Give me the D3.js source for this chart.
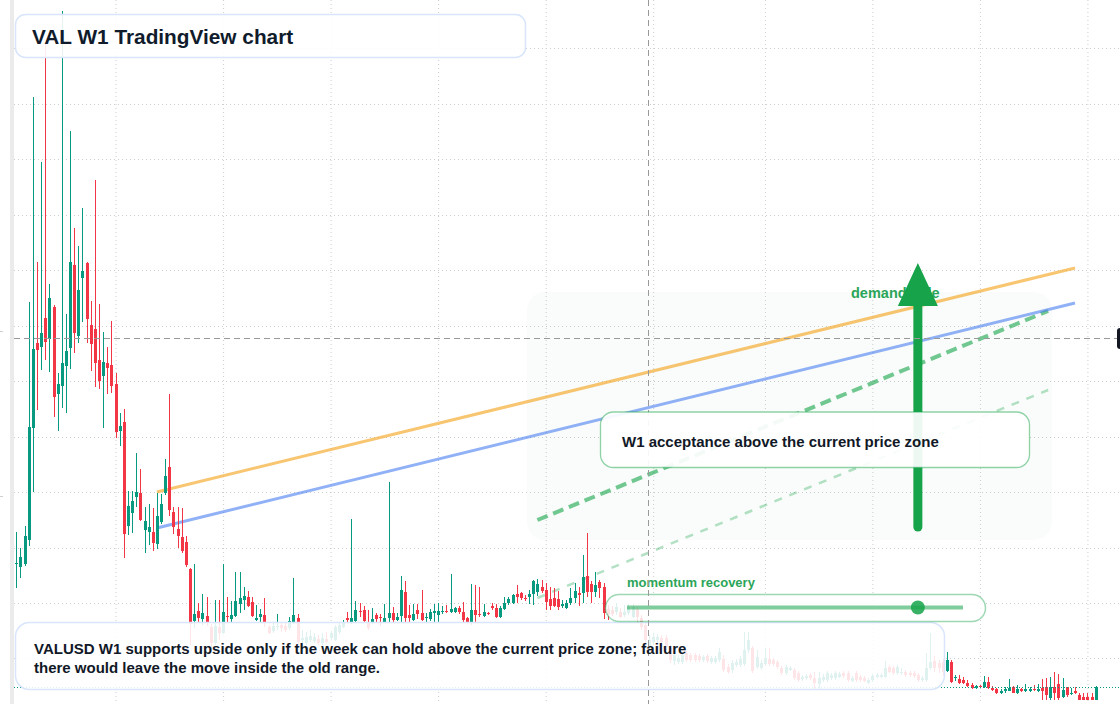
<!DOCTYPE html>
<html><head><meta charset="utf-8">
<script src="https://cdn.jsdelivr.net/npm/d3@7"></script>
<style>html,body{margin:0;padding:0;background:#fff;overflow:hidden}svg{display:block}</style>
</head><body><svg id="c" width="1120" height="704"></svg>
<script>
const opens=[1.36,1.33,1.36,1.60,2.72,3.57,3.53,3.82,3.61,3.93,
3.06,3.14,3.34,3.52,4.35,3.64,4.22,4.37,3.75,3.71,
3.40,3.24,3.37,3.35,3.16,2.69,2.78,1.74,1.87,2.03,
2.07,1.70,1.68,1.68,1.56,1.78,2.07,2.33,1.88,1.71,
1.63,1.58,1.31,0.79,0.89,0.81,0.84,0.73,0.57,0.73,
0.67,0.84,0.81,0.84,0.96,1.00,1.03,0.98,0.80,0.83,
0.85,0.73,0.69,0.73,0.75,0.74,0.72,0.77,0.82,0.60,
0.57,0.60,0.59,0.61,0.57,0.61,0.62,0.60,0.68,0.73,
0.82,0.78,0.79,0.89,0.90,0.78,0.78,0.85,0.83,0.78,
0.82,0.87,0.80,0.84,1.08,0.85,0.80,0.90,0.87,0.82,
0.81,0.87,0.85,0.88,0.89,0.88,0.88,0.92,0.88,0.82,
0.78,0.90,0.86,0.84,0.87,0.94,0.92,0.83,0.91,0.97,
0.97,1.06,1.07,1.02,1.03,1.06,1.08,1.13,1.10,1.01,
1.02,1.01,0.94,0.92,0.97,1.02,1.07,1.07,1.24,1.16,
1.08,1.18,1.13,0.91,0.90,0.88,0.88,0.85,0.87,0.83,
0.91,0.82,0.75,0.54,0.58,0.60,0.62,0.62,0.52,0.39,
0.38,0.38,0.47,0.45,0.45,0.44,0.40,0.44,0.38,0.38,
0.40,0.41,0.33,0.30,0.35,0.35,0.36,0.50,0.52,0.33,
0.32,0.36,0.41,0.40,0.38,0.32,0.27,0.30,0.30,0.27,
0.21,0.22,0.25,0.22,0.16,0.20,0.20,0.22,0.22,0.23,
0.27,0.27,0.19,0.27,0.23,0.22,0.17,0.20,0.23,0.23,
0.23,0.33,0.32,0.27,0.27,0.28,0.27,0.27,0.25,0.20,
0.20,0.32,0.39,0.37,0.38,0.29,0.38,0.22,0.21,0.20,
0.17,0.15,0.12,0.14,0.13,0.18,0.12,0.11,0.07,0.09,
0.09,0.13,0.07,0.11,0.09,0.09,0.11,0.09,0.12,0.13,
0.02,0.13,0.16,0.03,0.13,0.06,0.09,0.05,0.03,0.03,
0.03,0.00];
const highs=[1.68,1.52,1.74,3.98,6.03,4.38,5.38,6.57,4.16,3.95,
3.27,6.89,3.86,5.69,4.72,4.54,4.92,4.38,3.99,5.20,
3.96,3.68,3.53,3.79,3.27,2.87,2.91,2.09,2.09,2.47,
2.31,1.93,1.96,1.92,2.07,2.06,2.41,3.06,1.93,1.93,
1.92,1.64,1.32,1.36,0.97,1.06,1.03,0.76,1.00,1.00,
1.36,1.03,0.99,1.28,1.28,1.13,1.09,1.03,0.95,0.91,
1.02,0.75,0.78,0.86,0.78,0.77,0.83,1.22,0.86,0.70,
0.68,0.70,0.67,0.65,0.67,0.68,0.69,0.75,0.77,0.80,
0.88,1.81,0.99,0.97,0.94,0.90,0.92,0.87,0.86,0.96,
2.18,0.93,0.87,1.24,1.19,0.95,0.96,0.96,1.10,0.87,
0.91,0.96,0.97,0.94,0.95,1.26,0.93,0.94,0.98,0.83,
1.16,1.15,1.13,0.96,0.88,0.97,0.96,0.94,1.03,1.03,
1.06,1.15,1.08,1.05,1.10,1.20,1.21,1.20,1.17,1.13,
1.12,1.09,1.00,1.00,1.12,1.17,1.13,1.45,1.67,1.19,
1.28,1.20,1.17,0.95,0.94,0.97,0.92,0.95,0.96,0.96,
0.93,0.85,0.78,0.65,0.67,0.66,0.65,0.65,0.55,0.50,
0.45,0.48,0.49,0.47,0.47,0.46,0.45,0.46,0.44,0.44,
0.52,0.45,0.36,0.40,0.41,0.44,0.68,0.68,0.54,0.50,
0.40,0.52,0.52,0.42,0.40,0.34,0.35,0.34,0.32,0.29,
0.25,0.26,0.27,0.28,0.28,0.26,0.29,0.27,0.29,0.28,
0.29,0.29,0.24,0.29,0.25,0.24,0.22,0.26,0.27,0.27,
0.39,0.35,0.34,0.35,0.32,0.30,0.29,0.29,0.27,0.24,
0.47,0.67,0.44,0.40,0.41,0.48,0.40,0.25,0.25,0.23,
0.20,0.17,0.15,0.15,0.24,0.23,0.14,0.12,0.11,0.13,
0.21,0.14,0.15,0.12,0.16,0.13,0.15,0.16,0.21,0.22,
0.23,0.28,0.26,0.22,0.13,0.12,0.13,0.07,0.07,0.07,
0.07,0.14];
const lows=[1.12,1.22,1.34,1.54,2.08,2.90,3.30,3.40,3.28,2.83,
2.69,2.92,2.87,3.31,3.47,3.57,3.78,3.57,3.29,3.13,
3.11,2.72,3.06,3.07,2.62,2.54,1.42,1.65,1.67,1.93,
1.79,1.47,1.55,1.49,1.51,1.76,2.05,1.84,1.66,1.52,
1.47,1.33,0.55,0.72,0.78,0.75,0.74,0.52,0.55,0.60,
0.66,0.78,0.78,0.83,0.87,0.90,0.93,0.83,0.79,0.78,
0.73,0.66,0.67,0.70,0.68,0.68,0.70,0.76,0.55,0.57,
0.55,0.58,0.57,0.55,0.55,0.57,0.60,0.59,0.66,0.72,
0.78,0.76,0.78,0.83,0.78,0.70,0.76,0.78,0.74,0.78,
0.78,0.78,0.79,0.78,0.78,0.78,0.79,0.81,0.79,0.78,
0.79,0.78,0.78,0.86,0.87,0.87,0.87,0.86,0.78,0.78,
0.75,0.78,0.83,0.83,0.85,0.90,0.82,0.82,0.90,0.95,
0.96,0.97,1.00,0.99,0.96,0.95,1.04,1.07,0.90,0.90,
0.93,0.90,0.92,0.91,0.95,0.97,0.94,0.97,1.03,0.97,
1.03,1.02,0.81,0.80,0.84,0.85,0.82,0.83,0.85,0.82,
0.77,0.70,0.53,0.52,0.55,0.57,0.55,0.50,0.37,0.35,
0.36,0.36,0.38,0.38,0.38,0.38,0.38,0.37,0.36,0.36,
0.38,0.28,0.26,0.27,0.33,0.33,0.34,0.47,0.27,0.31,
0.30,0.34,0.34,0.34,0.31,0.25,0.25,0.29,0.20,0.18,
0.19,0.20,0.20,0.10,0.10,0.18,0.18,0.20,0.20,0.22,
0.22,0.18,0.18,0.18,0.18,0.18,0.16,0.18,0.22,0.22,
0.22,0.27,0.25,0.25,0.25,0.23,0.23,0.22,0.18,0.18,
0.18,0.30,0.28,0.27,0.24,0.28,0.17,0.19,0.16,0.16,
0.13,0.11,0.11,0.13,0.12,0.11,0.09,0.06,0.06,0.07,
0.09,0.07,0.06,0.08,0.08,0.08,0.09,0.08,0.00,0.00,
0.00,0.00,0.00,0.02,0.03,0.05,0.06,0.00,0.00,0.00,
0.00,0.00];
const closes=[1.37,1.43,1.64,2.73,3.51,3.50,3.67,3.58,4.02,3.03,
3.16,3.37,3.49,4.38,3.67,4.10,4.29,3.81,3.56,3.37,
3.19,3.38,3.32,3.14,2.68,2.74,1.66,1.94,1.99,2.08,
1.80,1.79,1.73,1.57,1.84,1.96,2.24,1.90,1.73,1.64,
1.49,1.35,0.76,0.86,0.82,0.87,0.78,0.57,0.74,0.67,
0.88,0.83,0.85,0.99,1.02,1.04,0.94,0.84,0.82,0.86,
0.77,0.67,0.74,0.74,0.72,0.70,0.79,0.85,0.58,0.62,
0.63,0.64,0.63,0.57,0.62,0.58,0.67,0.73,0.75,0.77,
0.80,0.82,0.90,0.88,0.79,0.72,0.81,0.81,0.82,0.82,
0.87,0.80,0.83,1.10,0.82,0.82,0.86,0.86,0.80,0.83,
0.88,0.89,0.89,0.89,0.88,0.91,0.92,0.88,0.80,0.78,
0.90,0.85,0.85,0.88,0.86,0.92,0.83,0.92,0.97,1.01,
1.05,1.03,1.02,1.01,1.06,1.19,1.16,1.09,0.98,0.94,
0.94,0.93,0.96,0.97,1.02,1.09,1.05,1.23,1.08,1.08,
1.15,1.12,0.87,0.85,0.86,0.93,0.83,0.88,0.93,0.93,
0.83,0.73,0.60,0.60,0.63,0.63,0.58,0.53,0.40,0.45,
0.42,0.45,0.40,0.40,0.40,0.40,0.43,0.39,0.42,0.42,
0.48,0.30,0.28,0.37,0.38,0.41,0.50,0.60,0.29,0.43,
0.37,0.42,0.36,0.36,0.33,0.27,0.33,0.32,0.22,0.20,
0.23,0.24,0.22,0.17,0.22,0.23,0.27,0.25,0.27,0.26,
0.24,0.20,0.22,0.20,0.20,0.19,0.20,0.24,0.25,0.25,
0.32,0.28,0.27,0.33,0.28,0.25,0.25,0.24,0.20,0.22,
0.32,0.38,0.32,0.32,0.28,0.40,0.18,0.23,0.17,0.17,
0.14,0.12,0.14,0.13,0.18,0.12,0.10,0.07,0.09,0.11,
0.12,0.07,0.11,0.09,0.11,0.11,0.10,0.11,0.09,0.05,
0.13,0.07,0.02,0.10,0.05,0.07,0.07,0.00,0.00,0.00,
0.00,0.13];

// grid ticks (candle index of half-year boundaries, price levels)
const gridIdx=[24,50,76,102,128,154,181,207,233,259];
const gridPrices=[0.42,0.97,1.52,2.08,2.63,3.19,3.74,4.30,4.85,5.41,5.96,6.52];
const crossIdx=153, crossPrice=3.62, lastPrice=0.13;
// drawn trend lines: [candle index, price]
const orangeLine=[[34,2.08],[256,4.32]];
const blueLine=[[34,1.72],[256,3.97]];
const demandDash=[[126,1.80],[249.5,3.89]];
const lowerDash=[[126,1.02],[249.5,3.10]];
const zoneIdx=[123.5,250.4], zonePrice=[1.60,4.08];
const arrowIdx=218, arrowPrice=[1.73,4.37];
const titleText="VAL W1 TradingView chart";
const noteLines=["VALUSD W1 supports upside only if the week can hold above the current price zone; failure","there would leave the move inside the old range."];
const acceptText="W1 acceptance above the current price zone";
const momentumText="momentum recovery";
const demandText="demand side";

const W=1120,H=704;
const UP='#089981',DOWN='#f23645',GREEN='#16a34a';
const FONT='"Liberation Sans", Arial, sans-serif';
const svg=d3.select('#c');
const x=d3.scaleLinear().domain([0,opens.length-1]).range([16.3,1095.7]);
const y=d3.scaleLinear().domain([0,7]).range([700,0]);
const candles=opens.map((o,i)=>({i,o,h:highs[i],l:lows[i],c:closes[i]}));

svg.append('rect').attr('width',W).attr('height',H).attr('fill','#fff');
svg.append('rect').attr('x',10).attr('y',0).attr('width',4).attr('height',H).attr('fill','#ebebeb');
svg.selectAll('line.ltick').data([331,496]).join('line').attr('class','ltick')
  .attr('x1',0).attr('x2',3).attr('y1',d=>d+0.5).attr('y2',d=>d+0.5).attr('stroke','#cfcfcf');

// grid via axes
const gx=svg.append('g').call(d3.axisTop(x).tickValues(gridIdx).tickSize(-H).tickFormat(''));
gx.select('.domain').remove();
gx.selectAll('line').attr('stroke','#cdcdcd').attr('stroke-dasharray','1,3');
const gy=svg.append('g').attr('transform','translate(14,0)')
  .call(d3.axisLeft(y).tickValues(gridPrices).tickSize(-(W-14)).tickFormat(''));
gy.select('.domain').remove();
gy.selectAll('line').attr('stroke','#cdcdcd').attr('stroke-dasharray','1,3');

// zone
svg.append('rect').attr('x',x(zoneIdx[0])).attr('y',y(zonePrice[1]))
  .attr('width',x(zoneIdx[1])-x(zoneIdx[0])).attr('height',y(zonePrice[0])-y(zonePrice[1]))
  .attr('rx',18).attr('fill','rgba(22,163,74,0.028)');

const line=d3.line().x(d=>x(d[0])).y(d=>y(d[1]));
svg.append('path').attr('d',line(lowerDash)).attr('fill','none').attr('stroke','rgba(22,163,74,0.32)')
  .attr('stroke-width',2.5).attr('stroke-dasharray','8,8');
svg.append('path').attr('d',line(demandDash)).attr('fill','none').attr('stroke','rgba(22,163,74,0.6)')
  .attr('stroke-width',4).attr('stroke-dasharray','11,6');
svg.append('path').attr('d',line(orangeLine)).attr('fill','none').attr('stroke','rgba(245,166,35,0.65)').attr('stroke-width',3);
svg.append('path').attr('d',line(blueLine)).attr('fill','none').attr('stroke','rgba(66,120,240,0.58)').attr('stroke-width',3);

// candles
const gC=svg.append('g');
const cg=gC.selectAll('g').data(candles).join('g');
const col=d=>d.c>=d.o?UP:DOWN;
const cx=d=>Math.round(x(d.i));
cg.append('line').attr('x1',d=>cx(d)+0.5).attr('x2',d=>cx(d)+0.5)
  .attr('y1',d=>y(d.h)).attr('y2',d=>y(d.l)).attr('stroke',col).attr('stroke-width',1);
cg.append('rect').attr('x',d=>cx(d)-1).attr('width',3)
  .attr('y',d=>y(Math.max(d.o,d.c)))
  .attr('height',d=>Math.max(1,y(Math.min(d.o,d.c))-y(Math.max(d.o,d.c))))
  .attr('fill',col);

// last price line
svg.append('line').attr('x1',14).attr('x2',W).attr('y1',Math.round(y(lastPrice))+0.5).attr('y2',Math.round(y(lastPrice))+0.5)
  .attr('stroke',UP).attr('stroke-dasharray','1,2');

// boxes
function box(x0,y0,w,h,r,fill,stroke,sw){
  svg.append('rect').attr('x',x0).attr('y',y0).attr('width',w).attr('height',h).attr('rx',r)
   .attr('fill',fill).attr('stroke',stroke).attr('stroke-width',sw);
}
box(15.5,14.5,510,43,10,'rgba(255,255,255,0.9)','#d8e5fb',1.5);
box(15.5,622.5,929,67,14,'rgba(255,255,255,0.87)','#d8e5fb',1.5);

// demand label + arrow
svg.append('text').attr('x',851).attr('y',298).attr('font-family',FONT).attr('font-weight','bold')
  .attr('font-size',14.5).attr('fill','#2ba559').text(demandText);
const ax=x(arrowIdx), ay0=y(arrowPrice[0]), ay1=y(arrowPrice[1]);
svg.append('line').attr('x1',ax).attr('x2',ax).attr('y1',ay0).attr('y2',ay1+40)
  .attr('stroke',GREEN).attr('stroke-width',9).attr('stroke-linecap','round');
svg.append('path').attr('d',`M${ax},${ay1}L${ax-20},${ay1+43}L${ax+20},${ay1+43}Z`).attr('fill',GREEN);

box(605.5,594.5,380,27,13.5,'rgba(255,255,255,0.86)','rgba(22,163,74,0.42)',1.5);

// momentum slider
svg.append('line').attr('x1',627).attr('x2',963).attr('y1',607.5).attr('y2',607.5)
  .attr('stroke','rgba(22,163,74,0.55)').attr('stroke-width',4);
svg.append('circle').attr('cx',ax).attr('cy',607.5).attr('r',7).attr('fill','rgba(22,163,74,0.85)');
svg.append('text').attr('x',627).attr('y',587).attr('font-family',FONT).attr('font-weight','bold')
  .attr('font-size',13).attr('fill','#2ba559').text(momentumText);

// crosshair
const chx=Math.round(x(crossIdx))-0.5, chy=Math.round(y(crossPrice))+0.5;
svg.append('line').attr('x1',chx).attr('x2',chx).attr('y1',0).attr('y2',H)
  .attr('stroke','#999').attr('stroke-dasharray','6,4');
svg.append('line').attr('x1',14).attr('x2',W).attr('y1',chy).attr('y2',chy)
  .attr('stroke','#999').attr('stroke-dasharray','6,4');
svg.append('rect').attr('x',1117).attr('y',328).attr('width',12).attr('height',21).attr('rx',3).attr('fill','#131722');

box(600.5,412,429,55.5,13,'rgba(255,255,255,0.92)','rgba(22,163,74,0.48)',1.3);

// texts
svg.append('text').attr('x',32).attr('y',43.5).attr('font-family',FONT).attr('font-weight','bold')
  .attr('font-size',20.8).attr('fill','#101b2c').text(titleText);
svg.append('text').attr('x',622).attr('y',446.5).attr('font-family',FONT).attr('font-weight','bold')
  .attr('font-size',15).attr('fill','#111827').text(acceptText);
svg.selectAll('text.note').data(noteLines).join('text').attr('class','note')
  .attr('x',34).attr('y',(d,i)=>653.5+i*19).attr('font-family',FONT).attr('font-weight','bold')
  .attr('font-size',15).attr('fill','#111827').text(d=>d);
</script></body></html>
